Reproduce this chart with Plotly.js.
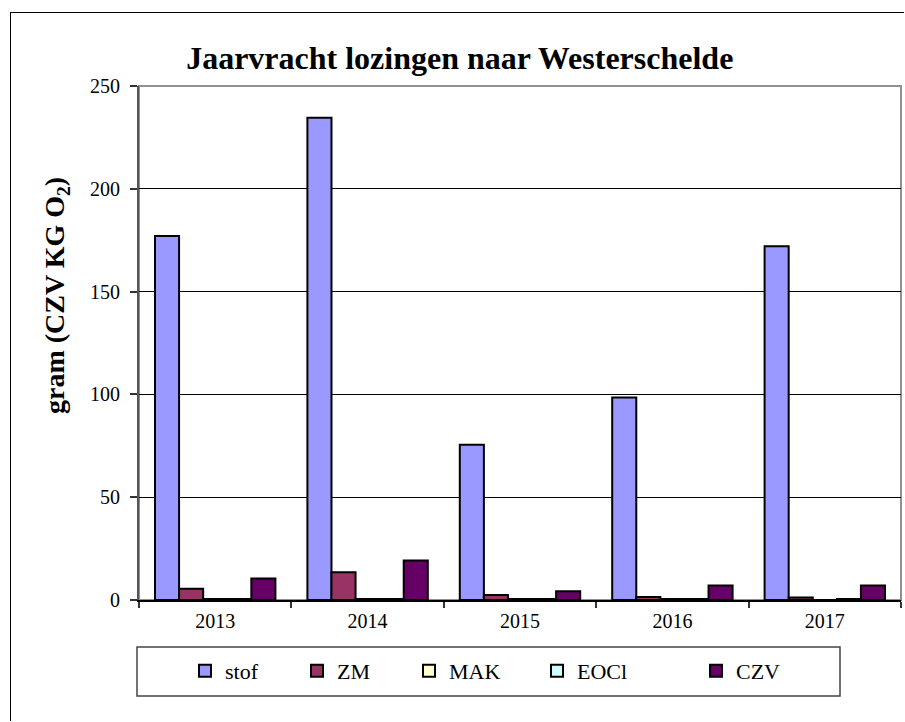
<!DOCTYPE html>
<html>
<head>
<meta charset="utf-8">
<script src="https://cdn.plot.ly/plotly-3.0.1.min.js"></script>
<style>
  html, body { margin: 0; padding: 0; background: #fff; overflow: hidden; }
  #frame { position: absolute; left: 10px; top: 12px; width: 893px; height: 708px;
           border-left: 1.5px solid #000; border-top: 1.5px solid #000; }
  #chart { position: absolute; left: 0; top: 0; width: 905px; height: 722px; }
</style>
</head>
<body>
<div id="frame"></div>
<div id="chart"></div>
<script>
const years = ['2013', '2014', '2015', '2016', '2017'];
const stof = [177, 234.5, 75.5, 98.5, 172];
const zm   = [5.5, 13.5, 2.4, 1.4, 1.2];
const mak  = [0.5, 0.5, 0.5, 0.5, 0];
const eocl = [0.5, 0.5, 0.5, 0.5, 0.5];
const czv  = [10.5, 19.2, 4.3, 7, 7];

const seriesNames = ['stof', 'ZM', 'MAK', 'EOCl', 'CZV'];
const seriesValues = [stof, zm, mak, eocl, czv];
const seriesColors = ['#9999FF', '#993366', '#FFFFCC', '#CCFFFF', '#660066'];

const serif = "'Liberation Serif', 'Times New Roman', serif";

const legendIds = ['legend', 'legend2', 'legend3', 'legend4', 'legend5'];
const legendLeft = [185, 297, 409, 537, 696];   // px positions of legend entries

const traces = seriesNames.map((name, i) => ({
  type: 'bar',
  name: name,
  x: years,
  y: seriesValues[i],
  legend: legendIds[i],
  marker: { color: seriesColors[i], line: { color: '#000', width: 2 } },
  hoverinfo: 'x+y+name'
}));

const L = 139, R = 4, T = 86, B = 122;
const W = 905, H = 722;
const pw = W - L - R, ph = H - T - B;

const layout = {
  width: W, height: H,
  margin: { l: L, r: R, t: T, b: B, pad: 0 },
  font: { family: serif, color: '#000' },
  paper_bgcolor: 'rgba(0,0,0,0)',
  plot_bgcolor: '#fff',
  barmode: 'group',
  bargap: 0.21,
  bargroupgap: 0,
  title: {
    text: '<b>Jaarvracht lozingen naar Westerschelde</b>',
    font: { family: serif, size: 32, color: '#000' },
    x: 0.508, xref: 'container', xanchor: 'center',
    y: 1 - 58 / H, yref: 'container', yanchor: 'middle'
  },
  xaxis: {
    type: 'category',
    tickson: 'boundaries',
    ticks: 'outside', ticklen: 6, tickcolor: '#333', tickwidth: 1.5,
    showline: true, linecolor: '#000', linewidth: 2,
    showgrid: false, zeroline: false,
    ticklabelstandoff: 2,
    tickfont: { family: serif, size: 20, color: '#000' }
  },
  yaxis: {
    range: [0, 250], dtick: 50,
    ticks: 'outside', ticklen: 7, tickcolor: '#333', tickwidth: 1.5,
    showline: true, linecolor: '#555', linewidth: 2,
    showgrid: true, gridcolor: '#000', gridwidth: 1,
    zeroline: false,
    ticklabelstandoff: 6,
    tickfont: { family: serif, size: 20, color: '#000' }
  },
  annotations: [
    { text: '<b>gram (CZV KG O<sub>2</sub>)</b>', textangle: -90,
      xref: 'paper', yref: 'paper',
      x: (56 - L) / pw, y: (T + ph - 296) / ph,
      xanchor: 'center', yanchor: 'middle', showarrow: false,
      font: { family: serif, size: 28, color: '#000' } }
  ],
  showlegend: true,
  shapes: [
    { type: 'rect', xref: 'paper', yref: 'paper', x0: 0, x1: 1, y0: 0, y1: 1,
      line: { color: '#909090', width: 2 }, layer: 'below' },
    { type: 'rect', xref: 'paper', yref: 'paper',
      x0: (137 - L) / pw, x1: (840 - L) / pw,
      y0: -(647 - (T + ph)) / ph, y1: -(696 - (T + ph)) / ph,
      line: { color: '#444', width: 1.5 } }
  ]
};

legendIds.forEach((id, i) => {
  layout[id] = {
    orientation: 'h',
    x: (legendLeft[i] - L) / pw, xanchor: 'left',
    y: -(671 - (T + ph)) / ph, yanchor: 'middle',
    bgcolor: 'rgba(0,0,0,0)', borderwidth: 0,
    font: { family: serif, size: 22, color: '#000' }
  };
});

Plotly.newPlot('chart', traces, layout, { displayModeBar: false });
</script>
</body>
</html>
